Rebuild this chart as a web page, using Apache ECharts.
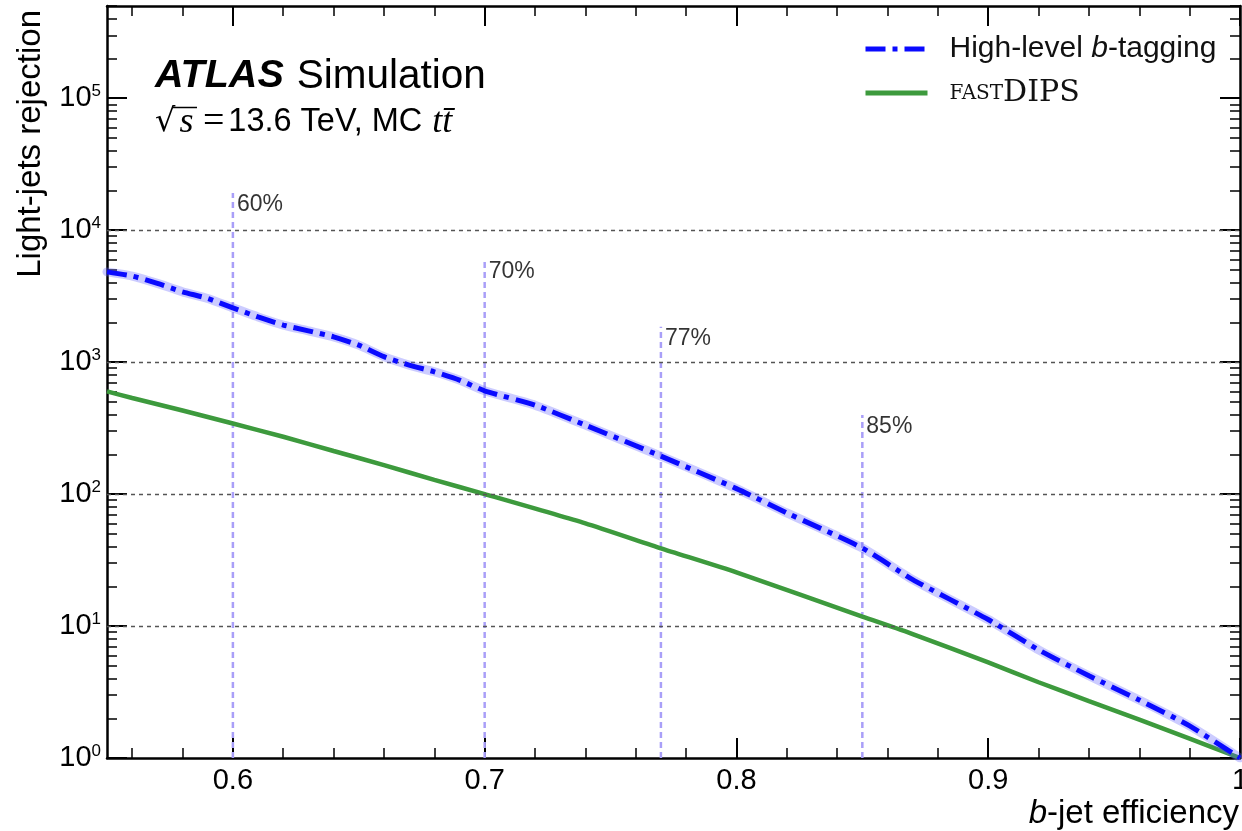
<!DOCTYPE html>
<html><head><meta charset="utf-8">
<script src="https://cdn.jsdelivr.net/npm/echarts@6/dist/echarts.min.js"></script>
<style>html,body{margin:0;padding:0;background:#fff}#c{width:1242px;height:831px}</style>
</head><body><div id="c"></div>
<script>
// ---- data ----
const effHL = [0.55, 0.56, 0.57, 0.58, 0.59, 0.60, 0.61, 0.62, 0.63, 0.64, 0.65, 0.66, 0.67, 0.68, 0.69, 0.70, 0.72, 0.74, 0.77, 0.80, 0.82, 0.85, 0.87, 0.90, 0.92, 0.94, 0.96, 0.98, 1.0];
const rejHL = [4830, 4490, 3950, 3410, 3040, 2580, 2200, 1910, 1727, 1555, 1345, 1100, 949, 845, 731, 606, 472, 333, 194, 110, 72, 39, 22.5, 11.2, 6.6, 4.2, 2.75, 1.75, 1.0];
const effFast = [0.55, 0.56, 0.58, 0.60, 0.62, 0.64, 0.66, 0.68, 0.70, 0.74, 0.77, 0.80, 0.85, 0.87, 0.90, 0.92, 0.94, 0.96, 0.98, 1.0];
const rejFast = [600, 535, 430, 343, 272, 212, 166, 128, 100, 60, 38.8, 25.5, 11.8, 8.7, 5.3, 3.75, 2.7, 1.95, 1.4, 1.0];
const wpEff = [0.60, 0.70, 0.77, 0.85];
const wpTop = [19150, 5930, 1852, 397];
const wpLabels = ['60%', '70%', '77%', '85%'];
const xMajorTicks = [0.6, 0.7, 0.8, 0.9, 1.0];
const xMinorTicks = [0.56, 0.58, 0.62, 0.64, 0.66, 0.68, 0.72, 0.74, 0.76, 0.78, 0.82, 0.84, 0.86, 0.88, 0.92, 0.94, 0.96, 0.98];
const yMajorTicks = [1, 10, 100, 1000, 10000, 100000];
const yMinorTicks = [];
for (let k = 0; k <= 5; k++) for (let m = 2; m <= 9; m++) { const v = m * Math.pow(10, k); if (v <= 5e5) yMinorTicks.push(v); }
const gridLevels = [10, 100, 1000, 10000];
const seriesNames = ['High-level b-tagging', 'fastDIPS'];

const SANS = 'Liberation Sans, Arial, Helvetica, sans-serif';
const SERIF = 'DejaVu Serif, Liberation Serif, serif';
const chart = echarts.init(document.getElementById('c'), null, {renderer: 'canvas'});

function xAxisDef(pos, ticks, len, width, labels) {
  return {
    type: 'value', min: 0.55, max: 1.0, position: pos,
    axisLine: {show: labels, onZero: false, lineStyle: {color: '#000', width: 2.5}},
    axisTick: {show: true, inside: true, length: len, lineStyle: {color: '#000', width: width}, customValues: ticks},
    axisLabel: labels && pos === 'bottom' ? {show: true, customValues: xMajorTicks, margin: 8, fontSize: 29, fontFamily: SANS, color: '#000',
      formatter: v => (Math.abs(v - 1) < 1e-9 ? '1' : v.toFixed(1))} : {show: false},
    splitLine: {show: false}
  };
}
function yAxisDef(pos, ticks, len, width, labels) {
  return {
    type: 'log', logBase: 10, min: 1, max: 5e5, position: pos,
    axisLine: {show: labels, onZero: false, lineStyle: {color: '#000', width: 2.5}},
    axisTick: {show: true, inside: true, length: len, lineStyle: {color: '#000', width: width}, customValues: ticks},
    axisLabel: labels && pos === 'left' ? {show: true, customValues: yMajorTicks, margin: 6, color: '#000',
      formatter: v => '{b|10}{e|' + Math.round(Math.log10(v)) + '}',
      rich: {b: {fontSize: 29, fontFamily: SANS, lineHeight: 30, color: '#000'},
             e: {fontSize: 17, fontFamily: SANS, verticalAlign: 'top', lineHeight: 16, color: '#000'}}} : {show: false},
    splitLine: {show: false}
  };
}

const series = [];
series.push({
  name: 'gridlines', type: 'line', data: [], silent: true, z: 1,
  markLine: {silent: true, symbol: 'none', label: {show: false},
    lineStyle: {color: '#555', width: 1.3, type: [4, 4]},
    data: gridLevels.map(v => ({yAxis: v}))}
});
wpEff.forEach((e, i) => {
  series.push({
    name: 'wp' + i, type: 'line', z: 2, silent: true, showSymbol: false, symbol: 'none',
    data: [[e, 1], [e, wpTop[i]]],
    lineStyle: {color: '#a99ff8', width: 2.5, type: [6, 4]}
  });
});
series.push({
  name: 'wpLabels', type: 'scatter', z: 3, silent: true, symbolSize: 0,
  data: wpEff.map((e, i) => [e, wpTop[i], wpLabels[i]]),
  label: {show: true, position: 'right', distance: 4, offset: [0, 11.5], formatter: p => p.data[2],
    fontSize: 23, fontFamily: SANS, color: '#000'}
});
series.push({
  name: 'fastDIPS', type: 'line', z: 4, showSymbol: false, symbol: 'none', smooth: 0.2,
  data: effFast.map((e, i) => [e, rejFast[i]]),
  lineStyle: {color: '#3d9a3d', width: 4.5}, itemStyle: {color: '#3d9a3d'}
});
series.push({
  name: 'HL band', type: 'line', z: 5, showSymbol: false, symbol: 'none', silent: true, smooth: 0.2,
  data: effHL.map((e, i) => [e, rejHL[i]]),
  lineStyle: {color: 'rgba(95,95,255,0.32)', width: 9, cap: 'round', join: 'round'}
});
series.push({
  name: 'High-level b-tagging', type: 'line', z: 6, showSymbol: false, symbol: 'none', smooth: 0.2,
  data: effHL.map((e, i) => [e, rejHL[i]]),
  lineStyle: {color: '#0a0aff', width: 5, type: [20, 7, 5, 7]}, itemStyle: {color: '#0a0aff'}
});

const option = {
  animation: false,
  backgroundColor: '#fff',
  grid: {left: 107, right: 2, top: 6, bottom: 73, containLabel: false, outerBoundsMode: 'none'},
  xAxis: [
    xAxisDef('bottom', xMajorTicks, 20, 2, true),
    xAxisDef('bottom', xMinorTicks, 10, 1.5, false),
    xAxisDef('top', xMajorTicks, 20, 2, true),
    xAxisDef('top', xMinorTicks, 10, 1.5, false)
  ],
  yAxis: [
    yAxisDef('left', yMajorTicks, 20, 2, true),
    yAxisDef('left', yMinorTicks, 10, 1.5, false),
    yAxisDef('right', yMajorTicks, 20, 2, true),
    yAxisDef('right', yMinorTicks, 10, 1.5, false)
  ],
  legend: {
    data: seriesNames, orient: 'vertical', left: 858, top: 29,
    itemWidth: 62, itemHeight: 14, itemGap: 14,
    itemStyle: {opacity: 0},
    lineStyle: {width: 5},
    formatter: name => name === 'fastDIPS' ? '{sc|FAST}{dp|DIPS}' : '{r|High-level }{i|b}{r|-tagging}',
    textStyle: {padding: [0, 0, 0, 17], rich: {
      r: {fontSize: 30, fontFamily: SANS, color: '#111', lineHeight: 36},
      i: {fontSize: 30, fontFamily: SANS, fontStyle: 'italic', color: '#111', lineHeight: 36},
      sc: {fontSize: 20, fontFamily: SERIF, color: '#111', lineHeight: 36, verticalAlign: 'bottom', padding: [0, 0, 7, 0]},
      dp: {fontSize: 30, fontFamily: SERIF, color: '#111', lineHeight: 36}
    }}
  },
  graphic: [
    {type: 'text', x: 155, y: 76.5, silent: true, style: {
      text: '{a|ATLAS}{s|Simulation}', verticalAlign: 'middle', align: 'left',
      rich: {a: {fontSize: 39.5, fontFamily: SANS, fontWeight: 'bold', fontStyle: 'italic', fill: '#000'},
             s: {fontSize: 40.5, fontFamily: SANS, fill: '#000', padding: [0, 0, 0, 13]}}}},
    {type: 'text', x: 155, y: 122.5, silent: true, style: {
      text: '{q|√}{ms|s}{m| =}{r|13.6 TeV, MC}{mi|tt̄}', verticalAlign: 'middle', align: 'left',
      rich: {q: {fontSize: 32, fontFamily: 'DejaVu Sans', fill: '#000'},
             ms: {fontSize: 36, fontFamily: 'Liberation Serif', fontStyle: 'italic', fill: '#000', padding: [0, 0, 0, 4]},
             mi: {fontSize: 36, fontFamily: 'Liberation Serif', fontStyle: 'italic', fill: '#000', padding: [0, 0, 0, 10]},
             m: {fontSize: 38, fontFamily: 'Liberation Serif', fill: '#000'},
             r: {fontSize: 32.5, fontFamily: SANS, fill: '#000', padding: [0, 0, 0, 4]}}}},
    {type: 'line', silent: true, shape: {x1: 172, y1: 107.5, x2: 197, y2: 107.5}, style: {stroke: '#000', lineWidth: 1.5}},
    {type: 'text', x: 31, y: 10, rotation: Math.PI / 2, silent: true, style: {
      text: 'Light-jets rejection', align: 'right', verticalAlign: 'middle',
      fontSize: 33, fontFamily: SANS, fill: '#000'}},
    {type: 'text', x: 1239, y: 813.5, silent: true, style: {
      text: '{i|b}{r|-jet efficiency}', align: 'right', verticalAlign: 'middle',
      rich: {i: {fontSize: 33, fontFamily: SANS, fontStyle: 'italic', fill: '#000'},
             r: {fontSize: 33, fontFamily: SANS, fill: '#000'}}}}
  ],
  series: series
};
chart.setOption(option);
</script></body></html>
